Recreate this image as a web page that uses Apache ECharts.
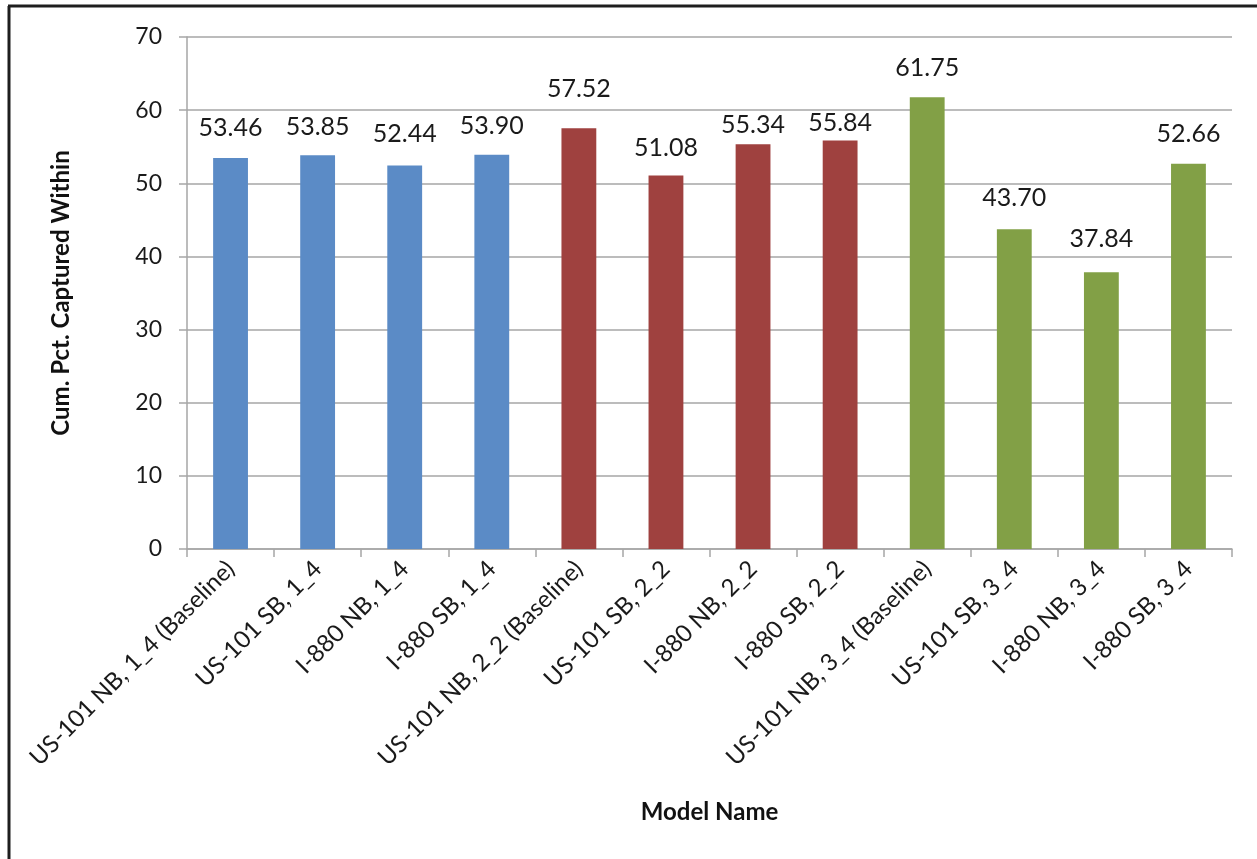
<!DOCTYPE html>
<html>
<head>
<meta charset="utf-8">
<script src="https://cdn.jsdelivr.net/npm/echarts@6/dist/echarts.min.js"></script>
<style>
html,body{margin:0;padding:0;background:#fff;}
#chart{width:1257px;height:859px;}
</style>
</head>
<body>
<div id="chart"></div>
<script>
const categories = [
  'US-101 NB, 1_4 (Baseline)', 'US-101 SB, 1_4', 'I-880 NB, 1_4', 'I-880 SB, 1_4',
  'US-101 NB, 2_2 (Baseline)', 'US-101 SB, 2_2', 'I-880 NB, 2_2', 'I-880 SB, 2_2',
  'US-101 NB, 3_4 (Baseline)', 'US-101 SB, 3_4', 'I-880 NB, 3_4', 'I-880 SB, 3_4'
];
const values = [53.46, 53.85, 52.44, 53.90, 57.52, 51.08, 55.34, 55.84, 61.75, 43.70, 37.84, 52.66];
const groups = [0, 0, 0, 0, 1, 1, 1, 1, 2, 2, 2, 2];
const groupColors = ['#5B8BC6', '#9F413F', '#82A046'];
const labelGaps = [18, 16, 19, 16, 27, 15, 7, 5, 17, 19, 21, 17];
const yTicks = { min: 0, max: 70, interval: 10 };

const FONT = 'Lato';
const chart = echarts.init(document.getElementById('chart'), null, { renderer: 'canvas' });
chart.setOption({
  animation: false,
  backgroundColor: '#ffffff',
  grid: { left: 187, right: 25, top: 37, bottom: 310, containLabel: false },
  xAxis: {
    type: 'category',
    data: categories,
    name: 'Model Name',
    nameLocation: 'middle',
    nameGap: 251,
    nameTextStyle: { fontFamily: FONT, fontSize: 24, fontWeight: 'bold', color: '#111' },
    axisLine: { show: true, lineStyle: { color: '#A6A6A6', width: 1.5 } },
    axisTick: { show: true, alignWithLabel: false, length: 8, lineStyle: { color: '#A6A6A6', width: 1.5 } },
    axisLabel: { rotate: 45, margin: 16, fontFamily: FONT, fontSize: 24, color: '#1a1a1a', interval: 0 },
    splitLine: { show: false }
  },
  yAxis: {
    type: 'value',
    min: yTicks.min, max: yTicks.max, interval: yTicks.interval,
    name: 'Cum. Pct. Captured Within',
    nameLocation: 'middle',
    nameGap: 114,
    nameTextStyle: { fontFamily: FONT, fontSize: 24, fontWeight: 'bold', color: '#111' },
    axisLine: { show: true, lineStyle: { color: '#A6A6A6', width: 1.5 } },
    axisTick: { show: true, length: 8, lineStyle: { color: '#A6A6A6', width: 1.5 } },
    axisLabel: { margin: 25, fontFamily: FONT, fontSize: 23, color: '#1a1a1a' },
    splitLine: { show: true, lineStyle: { color: '#A6A6A6', width: 1.5 } }
  },
  series: [{
    type: 'bar',
    barWidth: '40%',
    data: values.map((v, i) => ({
      value: v,
      itemStyle: { color: groupColors[groups[i]] },
      label: { distance: labelGaps[i] }
    })),
    label: {
      show: true,
      position: 'top',
      fontFamily: FONT,
      fontSize: 25,
      color: '#1a1a1a',
      formatter: p => p.value.toFixed(2)
    }
  }],
  graphic: [
    { type: 'line', silent: true, shape: { x1: 9, y1: 6, x2: 9, y2: 859 }, style: { stroke: '#1e1e1e', lineWidth: 3 } },
    { type: 'line', silent: true, shape: { x1: 8, y1: 6, x2: 1257, y2: 6 }, style: { stroke: '#1e1e1e', lineWidth: 3 } }
  ]
});
</script>
</body>
</html>
